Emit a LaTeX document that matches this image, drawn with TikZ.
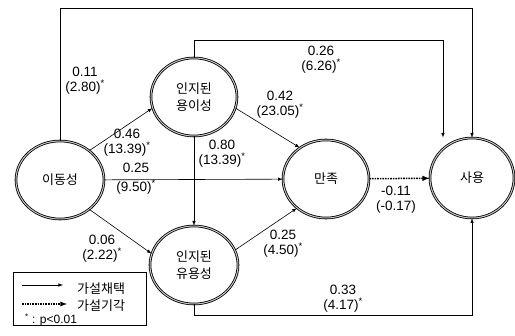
\documentclass[tikz,border=0pt]{standalone}
\usepackage{fontspec}
\setmainfont{Liberation Sans}
\newfontfamily\kr{Noto Sans CJK KR}
\usetikzlibrary{arrows}
\usetikzlibrary{shapes}

\tikzset{
  factor/.style={draw, shape=ellipse, line width=0.8pt, double=gray!45,
    double distance=1pt, minimum width=86pt, minimum height=78pt,
    inner sep=0pt, align=center, font=\kr\fontsize{13}{17}\selectfont},
  coef/.style={align=center, inner sep=1pt, font=\fontsize{13.5}{15}\selectfont},
  link/.style={-latex, line width=0.6pt},
  rejected/.style={-latex, line width=1.5pt, dash pattern=on 1.6pt off 1pt}
}

\begin{document}
\begin{tikzpicture}[x=1pt,y=-1pt]
 			\useasboundingbox (0,0) rectangle (515,336);
 			% Factors
 			\path (60,180) node(mobility)[factor, minimum width=88pt] {이동성};
 			\path (194,97) node(ease)[factor] {인지된\\용이성};
 			\path (194,265) node(useful)[factor, minimum width=88pt] {인지된\\유용성};
 			\path (326,179) node(satis)[factor] {만족};
 			\path (472,178) node(usage)[factor, minimum width=84pt, minimum height=80pt] {사용};
 			%% Drawing Connecting Arrows
 			\draw[link] (mobility.north) -- (mobility.north |- 0,8) -| (usage.north);
 			\draw[link] (ease.north) -- (ease.north |- 0,40) -| ([xshift=-29pt]usage.north);
 			\draw[link] (mobility.45) -- (ease.195);
 			\draw[link] (mobility) -- (satis);
 			\draw[link] (mobility.-45) -- (useful.165);
 			\draw[link] (ease) -- (useful);
 			\draw[link] (ease.-15) -- (satis.130);
 			\draw[link] (useful.20) -- (satis.-135);
 			\draw[rejected] (satis) -- (usage);
 			\draw[link] (useful.south) -- (useful.south |- 0,315) -| (usage.south);
 			% Coefficients
 			\path (85,81) node(cMobUse)[coef] {0.11\\(2.80)\textsuperscript{*}};
 			\path (127,143) node(cMobEase)[coef] {0.46\\(13.39)\textsuperscript{*}};
 			\path (136,179) node(cMobSat)[coef] {0.25\\[4pt](9.50)\textsuperscript{*}};
 			\path (102,249) node(cMobUseful)[coef] {0.06\\(2.22)\textsuperscript{*}};
 			\path (222,154) node(cEaseUseful)[coef] {0.80\\(13.39)\textsuperscript{*}};
 			\path (280,105) node(cEaseSat)[coef] {0.42\\(23.05)\textsuperscript{*}};
 			\path (321,60) node(cEaseUse)[coef] {0.26\\(6.26)\textsuperscript{*}};
 			\path (283,244) node(cUsefulSat)[coef] {0.25\\(4.50)\textsuperscript{*}};
 			\path (396,200) node(cSatUse)[coef] {-0.11\\(-0.17)};
 			\path (343,299) node(cUsefulUse)[coef] {0.33\\(4.17)\textsuperscript{*}};
 			%% Legend
 			\draw[line width=0.6pt] (13,272) rectangle (146,325);
 			\coordinate (accA) at (22,285);
 			\coordinate (accB) at (63,285);
 			\coordinate (rejA) at (22,304);
 			\coordinate (rejB) at (67,304);
 			\draw[link] (accA) -- (accB);
 			\draw[rejected, line width=1.3pt] (rejA) -- (rejB);
 			\path (77,289) node(accText)[anchor=west, inner sep=0pt, font=\kr\fontsize{13}{15}\selectfont] {가설채택};
 			\path (77,306) node(rejText)[anchor=west, inner sep=0pt, font=\kr\fontsize{13}{15}\selectfont] {가설기각};
 			\path (25,320) node(sigText)[anchor=west, inner sep=0pt, font=\fontsize{12}{14}\selectfont] {\textsuperscript{*} : p<0.01};
 		\end{tikzpicture}
\end{document}
